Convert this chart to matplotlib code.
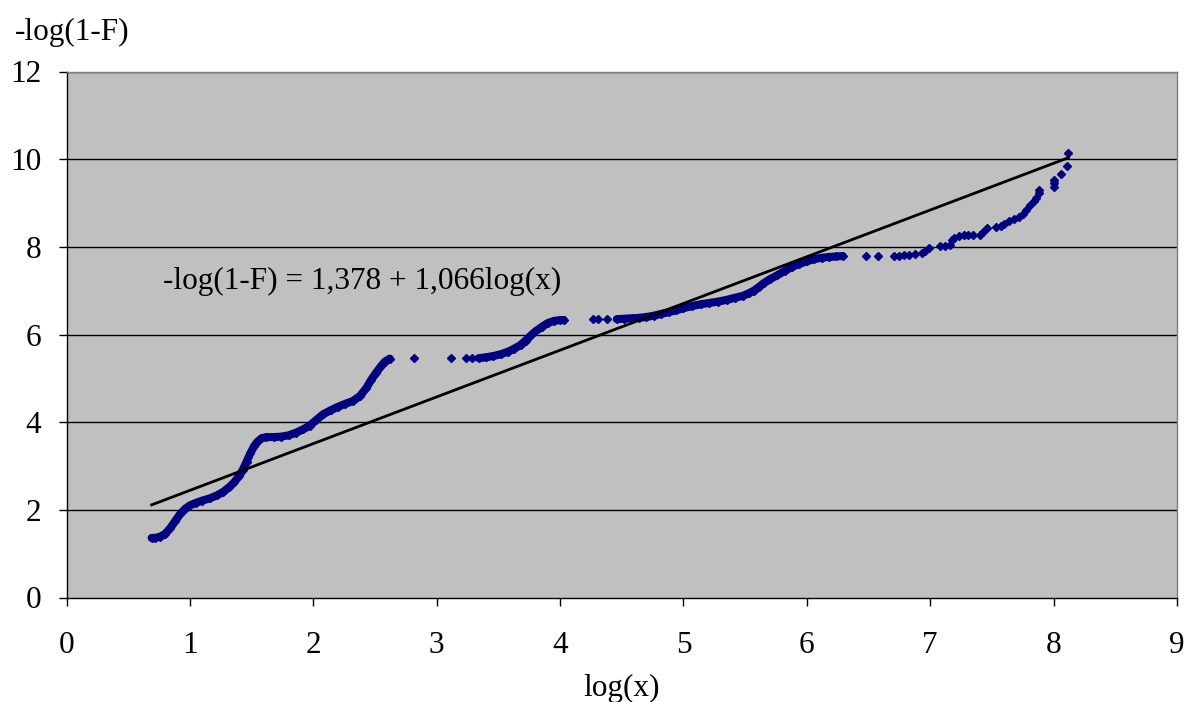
import matplotlib
matplotlib.use("Agg")
import matplotlib.pyplot as plt
import numpy as np

# ---- data ----
# dense runs of observations (log(x), -log(1-F))
run1_x = [0.69, 0.72, 0.76, 0.80, 0.84, 0.88, 0.92, 0.96, 1.00, 1.05, 1.10, 1.16, 1.22, 1.27, 1.32,
          1.36, 1.40, 1.43, 1.46, 1.49, 1.52, 1.55, 1.58, 1.62, 1.68, 1.74, 1.80, 1.86, 1.92, 1.97,
          2.02, 2.08, 2.14, 2.20, 2.26, 2.32, 2.38, 2.43, 2.47, 2.51, 2.55, 2.58, 2.62]
run1_y = [1.36, 1.36, 1.39, 1.45, 1.58, 1.74, 1.90, 2.02, 2.10, 2.16, 2.21, 2.26, 2.33, 2.41, 2.52,
          2.63, 2.78, 2.92, 3.10, 3.29, 3.45, 3.56, 3.63, 3.66, 3.66, 3.67, 3.70, 3.76, 3.84, 3.92,
          4.04, 4.18, 4.27, 4.35, 4.42, 4.48, 4.60, 4.78, 4.97, 5.13, 5.28, 5.38, 5.45]
run2_x = [3.34, 3.40, 3.46, 3.52, 3.58, 3.63, 3.68, 3.72, 3.76, 3.80, 3.85, 3.90, 3.95, 4.00, 4.03]
run2_y = [5.46, 5.48, 5.51, 5.55, 5.61, 5.68, 5.76, 5.86, 5.97, 6.07, 6.17, 6.26, 6.31, 6.33, 6.33]
run3_x = [4.46, 4.52, 4.58, 4.64, 4.70, 4.76, 4.82, 4.88, 4.94, 5.00, 5.07, 5.14, 5.21, 5.28, 5.35,
          5.42, 5.48, 5.53, 5.57, 5.61, 5.65, 5.70, 5.76, 5.82, 5.88, 5.94, 6.00, 6.06, 6.12, 6.18,
          6.24, 6.29]
run3_y = [6.35, 6.36, 6.37, 6.38, 6.40, 6.43, 6.47, 6.51, 6.55, 6.60, 6.65, 6.69, 6.72, 6.75, 6.79,
          6.84, 6.88, 6.94, 7.00, 7.08, 7.17, 7.26, 7.35, 7.45, 7.54, 7.61, 7.67, 7.72, 7.75, 7.77,
          7.78, 7.79]
# sparse observations
sparse_x = [2.82, 3.12, 3.24, 3.29, 4.27, 4.31, 4.38,
            6.48, 6.58, 6.71, 6.75, 6.79, 6.83, 6.88, 6.93, 6.96, 6.99, 7.08, 7.12, 7.16, 7.18,
            7.19, 7.23, 7.27, 7.31, 7.35, 7.40, 7.43, 7.46, 7.53, 7.57, 7.60, 7.64, 7.68, 7.72,
            7.75, 7.78, 7.81, 7.84, 7.86, 7.88, 7.88, 8.00, 8.00, 8.00, 8.06, 8.11, 8.12]
sparse_y = [5.46, 5.46, 5.46, 5.46, 6.35, 6.35, 6.35,
            7.79, 7.79, 7.80, 7.80, 7.81, 7.82, 7.83, 7.86, 7.91, 7.98, 8.03, 8.03, 8.04, 8.15,
            8.21, 8.24, 8.26, 8.26, 8.27, 8.28, 8.33, 8.42, 8.45, 8.48, 8.53, 8.58, 8.63, 8.68,
            8.75, 8.85, 8.95, 9.05, 9.12, 9.22, 9.30, 9.37, 9.45, 9.52, 9.66, 9.84, 10.15]

# fitted trend: -log(1-F) = 1,378 + 1,066 log(x)
fit_intercept = 1.378
fit_slope = 1.066
fit_range = [0.69, 8.12]

x_ticks = list(range(0, 10))
y_ticks = list(range(0, 13, 2))

# ---- plot ----
plt.rcParams['font.family'] = ['Liberation Serif', 'DejaVu Serif']
FS = 22.5
fig = plt.figure(figsize=(11.88, 7.02), dpi=100)
ax = fig.add_axes([66.5 / 1188, 1 - 597.5 / 702, (1177 - 66.5) / 1188, (597.5 - 71.5) / 702])
ax.set_facecolor('#C0C0C0')
ax.set_xlim(0, 9)
ax.set_ylim(0, 12)

for yv in y_ticks[1:]:
    ax.axhline(yv, color='black', lw=1.0, zorder=1)

navy = '#000080'
for rx, ry in [(run1_x, run1_y), (run2_x, run2_y), (run3_x, run3_y)]:
    ax.plot(rx, ry, '-', color=navy, lw=5.8, solid_capstyle='round', zorder=3)
    ax.plot(rx, ry, 'D', color=navy, ms=4.2, zorder=3)
ax.plot(sparse_x, sparse_y, 'D', color=navy, ms=4.2, linestyle='none', zorder=3)

fx = np.array(fit_range)
ax.plot(fx, fit_intercept + fit_slope * fx, color='black', lw=2.0, zorder=4)

ax.text(0.78, 7.2, '-log(1-F) = 1,378 + 1,066log(x)', fontsize=FS, ha='left', va='center')

ax.set_xticks(x_ticks)
ax.set_yticks(y_ticks)
ax.tick_params(axis='both', direction='out', length=6, width=1, labelsize=FS, color='black')
ax.tick_params(axis='x', pad=18)
ax.tick_params(axis='y', pad=12)
for s in ['left', 'bottom']:
    ax.spines[s].set_color('black')
    ax.spines[s].set_linewidth(1)
for s in ['top', 'right']:
    ax.spines[s].set_color('#808080')
    ax.spines[s].set_linewidth(1)

fig.text(15 / 1188, 1 - 32 / 702, '-log(1-F)', fontsize=FS, ha='left', va='center')
fig.text(622 / 1188, 1 - 688 / 702, 'log(x)', fontsize=FS, ha='center', va='center')

fig.savefig('out.png', dpi=100)
